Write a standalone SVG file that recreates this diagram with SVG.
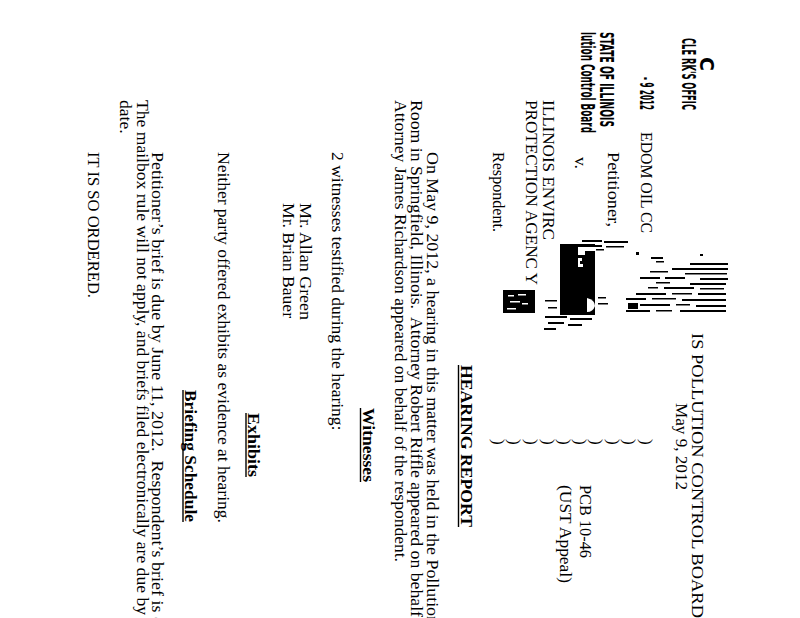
<svg xmlns="http://www.w3.org/2000/svg" width="800" height="618" viewBox="0 0 800 618">
<style>
.t{font-family:"Liberation Serif","Times New Roman",serif;font-size:17.5px;fill:#000;white-space:pre}
.b{font-weight:bold}
.s{font-family:"DejaVu Sans Condensed","DejaVu Sans","Liberation Sans",sans-serif;font-weight:bold;font-size:20px;fill:#000}
.u{stroke:#000;stroke-width:1.4}
.n{fill:#000}
.w{fill:#fff}
</style>
<rect width="800" height="618" fill="#fff"/>
<g id="page" transform="translate(800,0) rotate(90)">
  <g id="stamp">
    <text class="s" x="57" y="100" textLength="14" lengthAdjust="spacingAndGlyphs">C</text>
    <text class="s" x="38" y="118" textLength="72" lengthAdjust="spacingAndGlyphs">CLE  RK'S OFFIC</text>
    <text class="s" x="77" y="160" textLength="33" lengthAdjust="spacingAndGlyphs">- 9 2012</text>
    <text class="s" x="32" y="200" textLength="95" lengthAdjust="spacingAndGlyphs">STATE OF ILLINOIS</text>
    <text class="s" x="32" y="219" textLength="101" lengthAdjust="spacingAndGlyphs">lution Control Board</text>
  </g>
  <g id="header">
    <text class="t" x="333" y="108" textLength="285" lengthAdjust="spacingAndGlyphs">IS POLLUTION CONTROL BOARD</text>
    <text class="t" x="403" y="124" textLength="87" lengthAdjust="spacingAndGlyphs">May 9, 2012</text>
  </g>
  <g id="caption">
    <text class="t" x="132" y="159" textLength="101" lengthAdjust="spacingAndGlyphs">EDOM OIL CC</text>
    <text class="t" x="152" y="192" textLength="75" lengthAdjust="spacingAndGlyphs">Petitioner,</text>
    <text class="t" x="157" y="225">v.</text>
    <text class="t" x="100" y="257" textLength="140" lengthAdjust="spacingAndGlyphs">ILLINOIS ENVIRC</text>
    <text class="t" x="100" y="274" textLength="185" lengthAdjust="spacingAndGlyphs">PROTECTION AGENC Y</text>
    <text class="t" x="152" y="307" textLength="80" lengthAdjust="spacingAndGlyphs">Respondent.</text>
    <g id="parens">
      <text class="t" x="439" y="159">)</text>
      <text class="t" x="439" y="176">)</text>
      <text class="t" x="439" y="192">)</text>
      <text class="t" x="439" y="209">)</text>
      <text class="t" x="439" y="225">)</text>
      <text class="t" x="439" y="241">)</text>
      <text class="t" x="439" y="257">)</text>
      <text class="t" x="439" y="274">)</text>
      <text class="t" x="439" y="291">)</text>
      <text class="t" x="439" y="307">)</text>
    </g>
    <text class="t" x="485" y="220" textLength="73" lengthAdjust="spacingAndGlyphs">PCB 10-46</text>
    <text class="t" x="485" y="240" textLength="98" lengthAdjust="spacingAndGlyphs">(UST Appeal)</text>
  </g>
  <g id="body">
    <text class="t b" x="365" y="339" textLength="162" lengthAdjust="spacingAndGlyphs">HEARING REPORT</text>
    <line class="u" x1="365" y1="341.5" x2="527" y2="341.5"/>
    <text class="t" x="152" y="373" textLength="473" lengthAdjust="spacingAndGlyphs">On May 9, 2012, a hearing in this matter was held in the Pollution</text>
    <text class="t" x="100" y="389" textLength="517" lengthAdjust="spacingAndGlyphs">Room in Springfield, Illinois.  Attorney Robert Riffle appeared on behalf</text>
    <text class="t" x="100" y="405" textLength="462" lengthAdjust="spacingAndGlyphs">Attorney James Richardson appeared on behalf of the respondent.</text>
    <text class="t b" x="408" y="437" textLength="74" lengthAdjust="spacingAndGlyphs">Witnesses</text>
    <line class="u" x1="408" y1="439.5" x2="482" y2="439.5"/>
    <text class="t" x="152" y="468">2 witnesses testified during the hearing:</text>
    <text class="t" x="203" y="500" textLength="117" lengthAdjust="spacingAndGlyphs">Mr. Allan Green</text>
    <text class="t" x="203" y="517" textLength="115" lengthAdjust="spacingAndGlyphs">Mr. Brian Bauer</text>
    <text class="t b" x="413" y="552" textLength="64" lengthAdjust="spacingAndGlyphs">Exhibits</text>
    <line class="u" x1="413" y1="554" x2="477" y2="554"/>
    <text class="t" x="152" y="582">Neither party offered exhibits as evidence at hearing.</text>
    <text class="t b" x="390" y="615" textLength="132" lengthAdjust="spacingAndGlyphs">Briefing Schedule</text>
    <line class="u" x1="390" y1="617" x2="522" y2="617"/>
    <text class="t" x="152" y="648" textLength="491" lengthAdjust="spacingAndGlyphs">Petitioner’s brief is due by June 11, 2012.  Respondent’s brief is due</text>
    <text class="t" x="100" y="663" textLength="515" lengthAdjust="spacingAndGlyphs">The mailbox rule will not apply, and briefs filed electronically are due by</text>
    <text class="t" x="100" y="680">date.</text>
    <text class="t" x="152" y="712" textLength="146" lengthAdjust="spacingAndGlyphs">IT IS SO ORDERED.</text>
  </g>
</g>
<g id="scan-marks">
  <rect class="n" x="560" y="244" width="35" height="71"/>
  <path class="w" d="M578,247 h17 v4 h-10 v4 h-7z"/>
  <path class="w" d="M578,258 h4 v3 h-2 v3 h3 v3 h-5z"/>
  <path class="w" d="M587,298 q8,2 8,8 q-2,6 -8,6z"/>
  <rect class="n" x="503" y="290" width="32" height="23"/>
  <rect class="w" x="508" y="295" width="6" height="1.5"/>
  <rect class="w" x="518" y="294" width="8" height="1.5"/>
  <rect class="w" x="510" y="301" width="10" height="1.5"/>
  <rect class="w" x="522" y="303" width="6" height="1.5"/>
  <rect class="w" x="507" y="308" width="9" height="1.5"/>
  <g class="n">
    <rect x="582" y="240" width="20" height="2"/><rect x="604" y="241" width="24" height="2"/>
    <rect x="588" y="245" width="14" height="2"/><rect x="606" y="246" width="18" height="1.5"/>
    <rect x="596" y="249" width="8" height="1.5"/>
    <rect x="545" y="316" width="22" height="2"/><rect x="570" y="318" width="22" height="2"/>
    <rect x="548" y="322" width="16" height="2"/><rect x="568" y="324" width="14" height="2"/>
    <rect x="544" y="328" width="12" height="2"/>
    <rect x="545" y="300" width="12" height="1.5"/><rect x="548" y="307" width="9" height="1.5"/>
    <rect x="598" y="303" width="10" height="1.5"/><rect x="598" y="297" width="8" height="1.5"/>
    <rect x="651" y="257" width="12" height="2"/><rect x="656" y="261" width="8" height="1.5"/>
    <rect x="690" y="263" width="38" height="2"/><rect x="672" y="268" width="56" height="2"/>
    <rect x="650" y="271" width="18" height="1.5"/><rect x="685" y="273" width="42" height="1.5"/>
    <rect x="640" y="277" width="20" height="2"/><rect x="665" y="277" width="20" height="2"/><rect x="700" y="278" width="28" height="2"/>
    <rect x="656" y="282" width="14" height="1.5"/><rect x="690" y="283" width="36" height="2"/>
    <rect x="648" y="287" width="10" height="1.5"/><rect x="664" y="287" width="30" height="2"/><rect x="700" y="288" width="24" height="1.5"/>
    <rect x="636" y="293" width="30" height="2"/><rect x="672" y="293" width="20" height="1.5"/><rect x="698" y="293" width="28" height="2"/>
    <rect x="626" y="298" width="20" height="2"/><rect x="652" y="298" width="24" height="1.5"/><rect x="682" y="299" width="44" height="2"/>
    <rect x="628" y="303" width="10" height="6"/><rect x="640" y="304" width="30" height="2"/><rect x="676" y="304" width="14" height="1.5"/><rect x="696" y="305" width="30" height="2"/>
    <rect x="626" y="310" width="24" height="2"/><rect x="656" y="310" width="16" height="1.5"/><rect x="680" y="310" width="46" height="2"/>
    <rect x="636" y="252" width="3" height="3"/><rect x="700" y="254" width="3" height="2"/>
  </g>
</g>
</svg>
